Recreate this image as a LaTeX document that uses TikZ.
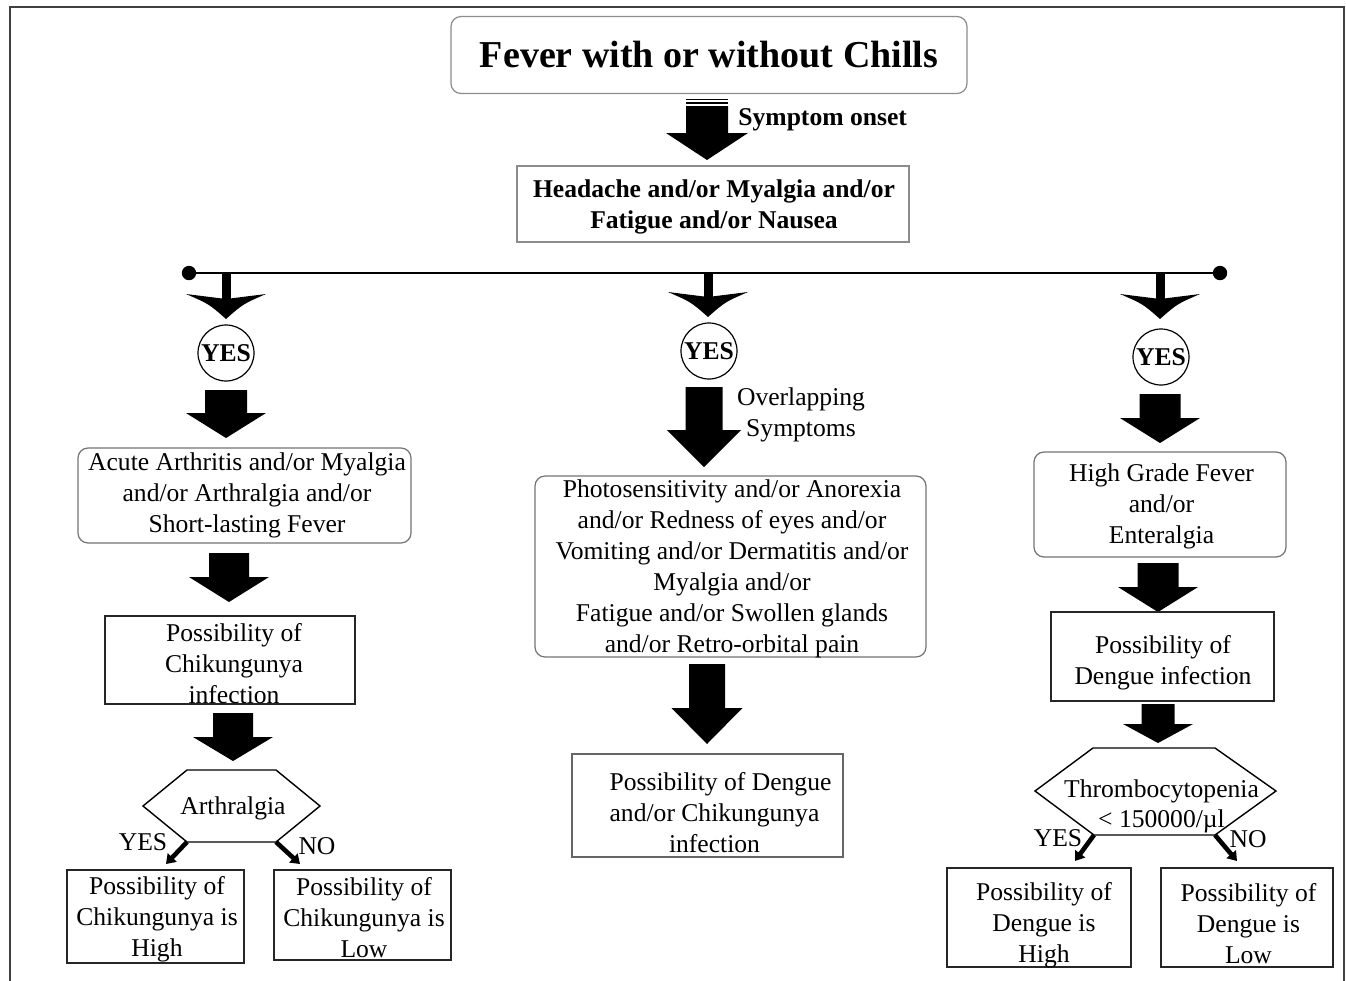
\documentclass[tikz,border=0pt]{standalone}
\usepackage{fontspec}
\setmainfont{Liberation Serif}
\usetikzlibrary{arrows.meta,calc}
% block arrow: #1 top coord, #2 tip coord, #3 half body, #4 half head, #5 head length (px)
\newcommand\blockarr[5]{\fill ($(#1)+(-#3,0)$) -- ($(#1)+(#3,0)$) -- ($(#2)+(#3,-#5)$) -- ($(#2)+(#4,-#5)$) -- (#2) -- ($(#2)+(-#4,-#5)$) -- ($(#2)+(-#3,-#5)$) -- cycle;}
% chevron arrow from line: #1 start on line, #2 tip
\newcommand\chevarr[2]{\draw[line width=4.5pt] (#1) -- ($(#2)+(0,-19)$);
 \fill ($(#2)+(-40,-25)$) .. controls ($(#2)+(-17,-15)$) .. (#2) .. controls ($(#2)+(17,-15)$) .. ($(#2)+(40,-25)$) .. controls ($(#2)+(20,-22)$) .. ($(#2)+(0,-20)$) .. controls ($(#2)+(-20,-22)$) .. ($(#2)+(-40,-25)$) -- cycle;}
% box with separately placed text: #1 name, #2 style, #3 box centre, #4 width, #5 height, #6 text centre, #7 text
\newcommand\tbox[7]{\node[#2, minimum width=#4, minimum height=#5] (#1) at (#3) {};
 \node[txt] (#1-t) at (#6) {#7};}
\begin{document}
\begin{tikzpicture}[x=0.5pt,y=-0.5pt,
  txt/.style={font=\fontsize{12.8}{15.5}\selectfont, align=center, inner sep=1pt},
  rbox/.style={draw=black!55, line width=0.6pt, rounded corners=5pt},
  sbox/.style={draw=black!85, line width=0.8pt},
  yes/.style={circle, draw, line width=0.6pt, minimum size=28pt, inner sep=0pt, font=\fontsize{12.8}{15.5}\selectfont\bfseries},
  small/.style={line width=2.3pt, -{Triangle[length=4.5pt,width=6pt]}}]
\useasboundingbox (0,0) rectangle (1346,981);
% frame
\draw[black!75, line width=1pt] (10,981) -- (10,7) -- (1344,7) -- (1344,981);

% title
\node[draw=black!45, line width=0.6pt, rounded corners=5pt, minimum width=258pt, minimum height=38.5pt,
  font=\fontsize{19}{22}\selectfont\bfseries] (title) at (709,55) {Fever with or without Chills};

% symptom onset arrow
\coordinate (a0t) at (707,106);
\coordinate (a0b) at (707,160);
\draw[line width=0.9pt] (686,99.5) -- (728,99.5) (686,103) -- (728,103);
\blockarr{a0t}{a0b}{21}{41}{27}
\node[anchor=west, font=\fontsize{12.8}{15.5}\selectfont\bfseries, inner sep=0pt] (onset) at (738,120) {Symptom onset};

% headache box
\node[draw=black!45, line width=0.6pt, minimum width=196pt, minimum height=38pt] (head) at (713,204) {};
\node[font=\fontsize{12.8}{15.5}\selectfont\bfseries, align=center, inner sep=1pt] (head-t) at (714,207)
  {Headache and/or Myalgia and/or\\Fatigue and/or Nausea};

% horizontal line
\coordinate (hl) at (189,273);
\coordinate (hr) at (1220,273);
\draw[line width=1pt] (hl) -- (hr);
\fill (hl) circle (3.6pt) (hr) circle (3.6pt);
\coordinate (c1) at (226,273); \coordinate (t1) at (226,319);
\coordinate (c2) at (708,273); \coordinate (t2) at (708,317);
\coordinate (c3) at (1160,273); \coordinate (t3) at (1160,319);
\chevarr{c1}{t1}
\chevarr{c2}{t2}
\chevarr{c3}{t3}

% YES circles
\node[yes] (y1) at (226,353) {YES};
\node[yes] (y2) at (709,351) {YES};
\node[yes] (y3) at (1161,357) {YES};

% arrows below YES
\coordinate (l1t) at (226,390); \coordinate (l1b) at (226,438);
\blockarr{l1t}{l1b}{21}{40}{25}
\coordinate (m1t) at (704,387); \coordinate (m1b) at (704,467);
\blockarr{m1t}{m1b}{18.5}{37}{37}
\coordinate (r1t) at (1160,394); \coordinate (r1b) at (1160,443);
\blockarr{r1t}{r1b}{20.5}{40}{25}
\node[txt, inner sep=0pt] (overlap) at (801,415) {Overlapping\\Symptoms};

% symptom boxes
\tbox{lsym}{rbox}{244.5,495.5}{166.5pt}{47.5pt}{247,495}
  {Acute Arthritis and/or Myalgia\\and/or Arthralgia and/or\\Short-lasting Fever}
\tbox{msym}{rbox}{730.5,566.5}{195.5pt}{90.5pt}{732,569}
  {Photosensitivity and/or Anorexia\\and/or Redness of eyes and/or\\Vomiting and/or Dermatitis and/or\\Myalgia and/or\\Fatigue and/or Swollen glands\\and/or Retro-orbital pain}
\tbox{rsym}{rbox}{1160,504.5}{126pt}{52.5pt}{1161.5,506.5}
  {High Grade Fever\\and/or\\Enteralgia}

% second arrows
\coordinate (l2t) at (229,553); \coordinate (l2b) at (229,602);
\blockarr{l2t}{l2b}{20}{40}{25}
\coordinate (m2t) at (707,664); \coordinate (m2b) at (707,744);
\blockarr{m2t}{m2b}{18}{35.5}{36}
\coordinate (r2t) at (1158,563); \coordinate (r2b) at (1158,612);
\blockarr{r2t}{r2b}{20.5}{40}{25}

% possibility boxes
\tbox{lpos}{sbox}{230,660}{125pt}{44pt}{234,663.5}
  {Possibility of\\Chikungunya\\infection}
\tbox{mpos}{sbox,draw=black!60}{707.5,805.5}{135.5pt}{51.5pt}{714.5,812.5}
  {\hspace*{6pt}Possibility of Dengue\\and/or Chikungunya\\infection}
\tbox{rpos}{sbox}{1162.5,656.5}{111.5pt}{44.5pt}{1163,663}
  {Possibility of\\Dengue infection}

% third arrows
\coordinate (l3t) at (233,713); \coordinate (l3b) at (233,761);
\blockarr{l3t}{l3b}{20}{40}{24}
\coordinate (r3t) at (1158,704); \coordinate (r3b) at (1158,743);
\blockarr{r3t}{r3b}{16.5}{35}{19}

% hexagons
\coordinate (hAl) at (187,842); \coordinate (hAr) at (276,842);
\draw[line width=0.7pt] (143,806) -- (187,770) -- (276,770) -- (320,806) -- (hAr) -- (hAl) -- cycle;
\node[txt] (arth) at (233,808.5) {Arthralgia};
\coordinate (hTl) at (1094,835); \coordinate (hTr) at (1215,835);
\draw[line width=0.7pt] (1035,791) -- (1093,748) -- (1215,748) -- (1276,791) -- (hTr) -- (hTl) -- cycle;
\node[txt] (thr) at (1161.5,806) {Thrombocytopenia\\[-0.5pt]< 150000/µl};

% YES / NO labels
\node[txt, inner sep=0pt] (lyes) at (143,842) {YES};
\node[txt, inner sep=0pt] (lno) at (317,846) {NO};
\node[txt, inner sep=0pt] (ryes) at (1058,838) {YES};
\node[txt, inner sep=0pt] (rno) at (1248,839) {NO};

% result boxes
\tbox{lhigh}{sbox}{155.5,916.5}{88.5pt}{46.5pt}{157,919}
  {Possibility of\\Chikungunya is\\High}
\tbox{llow}{sbox}{362.5,915}{88.5pt}{45pt}{364,918}
  {Possibility of\\Chikungunya is\\Low}
\tbox{rhigh}{sbox}{1039,917.5}{92pt}{49.5pt}{1044,925.5}
  {Possibility of\\Dengue is\\High}
\tbox{rlow}{sbox}{1247,917.5}{86pt}{49.5pt}{1248.5,923.5}
  {Possibility of\\Dengue is\\Low}

% small arrows
\draw[small] (hAl) -- (166,864);
\draw[small] (hAr) -- (300,864);
\draw[small] (hTl) -- (1075,861);
\draw[small] (hTr) -- (1237,861);
\end{tikzpicture}
\end{document}
